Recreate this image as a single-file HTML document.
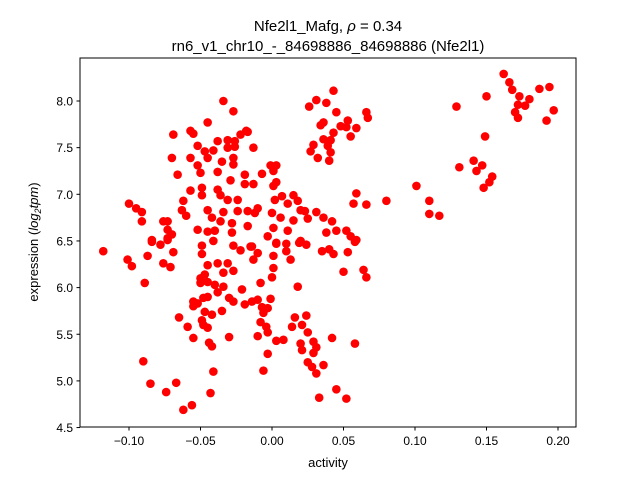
<!DOCTYPE html>
<html><head><meta charset="utf-8"><style>
html,body{margin:0;padding:0;background:#fff;}
svg{display:block;font-family:"Liberation Sans","DejaVu Sans",sans-serif;}
</style></head><body>
<svg id="chart" width="640" height="480" viewBox="0 0 640 480">
<rect width="640" height="480" fill="#fff"/>
<text x="328" y="31" text-anchor="middle" font-size="15">Nfe2l1_Mafg, <tspan font-style="italic">ρ</tspan> = 0.34</text>
<text x="328" y="51" text-anchor="middle" font-size="15">rn6_v1_chr10_-_84698886_84698886 (Nfe2l1)</text>
<g id="points"></g>
<g id="xticks"></g>
<g id="yticks"></g>
<rect x="80" y="58" width="496" height="369" fill="none" stroke="#000" stroke-width="1"/>
<text x="328" y="467" text-anchor="middle" font-size="13">activity</text>
<text transform="translate(38,242) rotate(-90)" text-anchor="middle" font-size="13">expression (<tspan font-style="italic">log</tspan><tspan font-size="9" dy="3" font-style="italic">2</tspan><tspan dy="-3" font-style="italic">tpm</tspan>)</text>
</svg>
<script>
const xTicks = [-0.10,-0.05,0.00,0.05,0.10,0.15,0.20];
const xTickLabels = ["−0.10","−0.05","0.00","0.05","0.10","0.15","0.20"];
const yTicks = [4.5,5.0,5.5,6.0,6.5,7.0,7.5,8.0];
const yTickLabels = ["4.5","5.0","5.5","6.0","6.5","7.0","7.5","8.0"];
const activity = [
-0.034,-0.027,-0.045,-0.069,-0.057,-0.055,-0.038,-0.031,-0.026,-0.022,-0.017,-0.052,-0.047,-0.041,-0.031,-0.026,-0.070,-0.057,-0.052,-0.045,-0.035,-0.027,-0.027,-0.066,-0.050,-0.038,-0.029,-0.019,-0.019,-0.057,-0.049,-0.049,-0.038,-0.036,-0.031,-0.024,-0.100,-0.095,-0.091,-0.091,-0.062,-0.063,-0.060,-0.045,-0.034,-0.024,-0.017,-0.042,-0.036,-0.028,-0.017,-0.076,-0.073,-0.073,-0.070,-0.052,-0.045,-0.040,-0.028,-0.084,-0.073,
-0.118,-0.084,-0.078,-0.073,-0.087,-0.101,-0.098,-0.076,-0.071,-0.069,-0.049,-0.049,-0.041,-0.027,-0.022,-0.015,-0.045,-0.038,-0.031,-0.034,-0.027,-0.089,-0.050,-0.047,-0.050,-0.045,-0.040,-0.034,-0.038,-0.021,-0.055,-0.048,-0.045,-0.055,-0.052,-0.030,-0.027,-0.019,-0.047,-0.042,-0.035,-0.065,-0.049,-0.048,-0.045,-0.059,-0.055,-0.030,-0.044,-0.042,-0.090,-0.041,-0.085,-0.074,-0.067,-0.043,-0.056,-0.062,
0.043,0.031,0.038,0.026,0.045,0.066,0.067,0.036,0.034,0.053,0.048,0.052,0.059,0.043,0.055,0.036,0.041,0.039,0.029,0.027,0.041,0.032,0.040,-0.018,-0.013,-0.001,0.003,0.001,-0.007,-0.013,0.003,0.001,0.059,0.057,0.066,0.002,0.007,0.015,0.011,0.018,-0.010,-0.012,0.000,0.006,0.020,0.023,0.015,0.025,0.031,0.036,0.042,0.001,-0.003,0.011,0.038,0.045,0.052,0.055,0.059,0.020,0.003,
-0.014,-0.010,-0.013,0.003,0.010,0.010,0.019,0.024,0.001,0.013,0.035,0.040,0.043,0.053,0.058,0.001,0.000,0.050,0.064,0.066,-0.008,0.018,-0.014,-0.010,-0.001,-0.007,-0.003,-0.006,-0.008,-0.004,-0.003,-0.010,0.016,0.024,0.014,0.021,0.025,0.003,0.008,0.020,0.021,0.029,0.031,0.029,0.042,0.058,-0.003,0.025,0.028,0.036,0.031,-0.006,0.045,0.033,0.052,
0.162,0.166,0.168,0.173,0.180,0.177,0.172,0.170,0.172,0.187,0.194,0.197,0.192,0.150,0.129,0.149,0.131,0.141,0.147,0.143,0.154,0.152,0.148,0.101,0.080,0.110,0.110,0.117
];
const expression = [
8.00,7.89,7.77,7.64,7.68,7.65,7.57,7.58,7.57,7.64,7.67,7.52,7.46,7.47,7.50,7.51,7.39,7.39,7.31,7.39,7.35,7.39,7.32,7.21,7.23,7.24,7.15,7.21,7.11,7.04,7.07,6.99,7.05,6.99,6.94,6.94,6.90,6.85,6.81,6.71,6.93,6.83,6.77,6.83,6.81,6.82,6.82,6.75,6.71,6.69,6.66,6.71,6.71,6.62,6.57,6.62,6.60,6.61,6.59,6.51,6.53,
6.39,6.49,6.46,6.51,6.34,6.30,6.23,6.26,6.22,6.38,6.45,6.36,6.50,6.45,6.40,6.44,6.24,6.26,6.26,6.16,6.18,6.05,6.10,6.14,6.05,6.06,6.03,6.01,5.95,5.98,5.85,5.89,5.90,5.80,5.83,5.89,5.85,5.82,5.74,5.71,5.75,5.68,5.65,5.60,5.57,5.58,5.46,5.47,5.41,5.37,5.21,5.10,4.97,4.88,4.98,4.87,4.74,4.69,
8.11,8.01,7.98,7.94,7.88,7.88,7.82,7.77,7.74,7.79,7.73,7.72,7.71,7.66,7.62,7.59,7.58,7.52,7.53,7.46,7.45,7.39,7.36,7.68,7.50,7.31,7.31,7.25,7.22,7.11,7.13,7.09,7.01,6.90,6.89,6.94,6.98,6.99,6.90,6.93,6.85,6.80,6.80,6.75,6.83,6.82,6.72,6.74,6.81,6.75,6.71,6.64,6.55,6.61,6.59,6.61,6.61,6.55,6.51,6.50,6.48,
6.44,6.37,6.30,6.47,6.47,6.39,6.48,6.46,6.34,6.30,6.39,6.41,6.36,6.38,6.49,6.21,6.11,6.17,6.19,6.11,6.05,6.01,5.85,5.87,5.88,5.79,5.78,5.73,5.63,5.58,5.52,5.48,5.68,5.70,5.58,5.60,5.52,5.43,5.44,5.40,5.33,5.42,5.36,5.30,5.46,5.40,5.29,5.20,5.15,5.17,5.08,5.11,4.91,4.82,4.81,
8.29,8.20,8.12,8.05,8.02,7.95,7.96,7.88,7.82,8.13,8.15,7.90,7.79,8.05,7.94,7.62,7.29,7.36,7.31,7.25,7.19,7.13,7.07,7.09,6.93,6.93,6.79,6.77
];
const NS = "http://www.w3.org/2000/svg";
function xScale(v){ return 272 + v*1430; }
function yScale(v){ return 101 + (8 - v)*93.3; }
const pg = document.getElementById('points');
for (let i=0;i<activity.length;i++){
  const c = document.createElementNS(NS,'circle');
  c.setAttribute('cx', xScale(activity[i]));
  c.setAttribute('cy', yScale(expression[i]));
  c.setAttribute('r', 4.3);
  c.setAttribute('fill', '#ff0000');
  
  
  pg.appendChild(c);
}
const xg = document.getElementById('xticks');
xTicks.forEach((t,i)=>{
  const x = xScale(t);
  const l = document.createElementNS(NS,'line');
  l.setAttribute('x1',x); l.setAttribute('x2',x); l.setAttribute('y1',427); l.setAttribute('y2',430.5);
  l.setAttribute('stroke','#000');
  
  
  xg.appendChild(l);
  const tx = document.createElementNS(NS,'text');
  tx.setAttribute('x',x); tx.setAttribute('y',445); tx.setAttribute('text-anchor','middle'); tx.setAttribute('font-size','12');
  tx.textContent = xTickLabels[i];
  
  
  xg.appendChild(tx);
});
const yg = document.getElementById('yticks');
yTicks.forEach((t,i)=>{
  const y = yScale(t);
  const l = document.createElementNS(NS,'line');
  l.setAttribute('x1',76.5); l.setAttribute('x2',80); l.setAttribute('y1',y); l.setAttribute('y2',y);
  l.setAttribute('stroke','#000');
  
  
  yg.appendChild(l);
  const tx = document.createElementNS(NS,'text');
  tx.setAttribute('x',73); tx.setAttribute('y',y+4.5); tx.setAttribute('text-anchor','end'); tx.setAttribute('font-size','12');
  tx.textContent = yTickLabels[i];
  
  
  yg.appendChild(tx);
});
</script>
</body></html>
